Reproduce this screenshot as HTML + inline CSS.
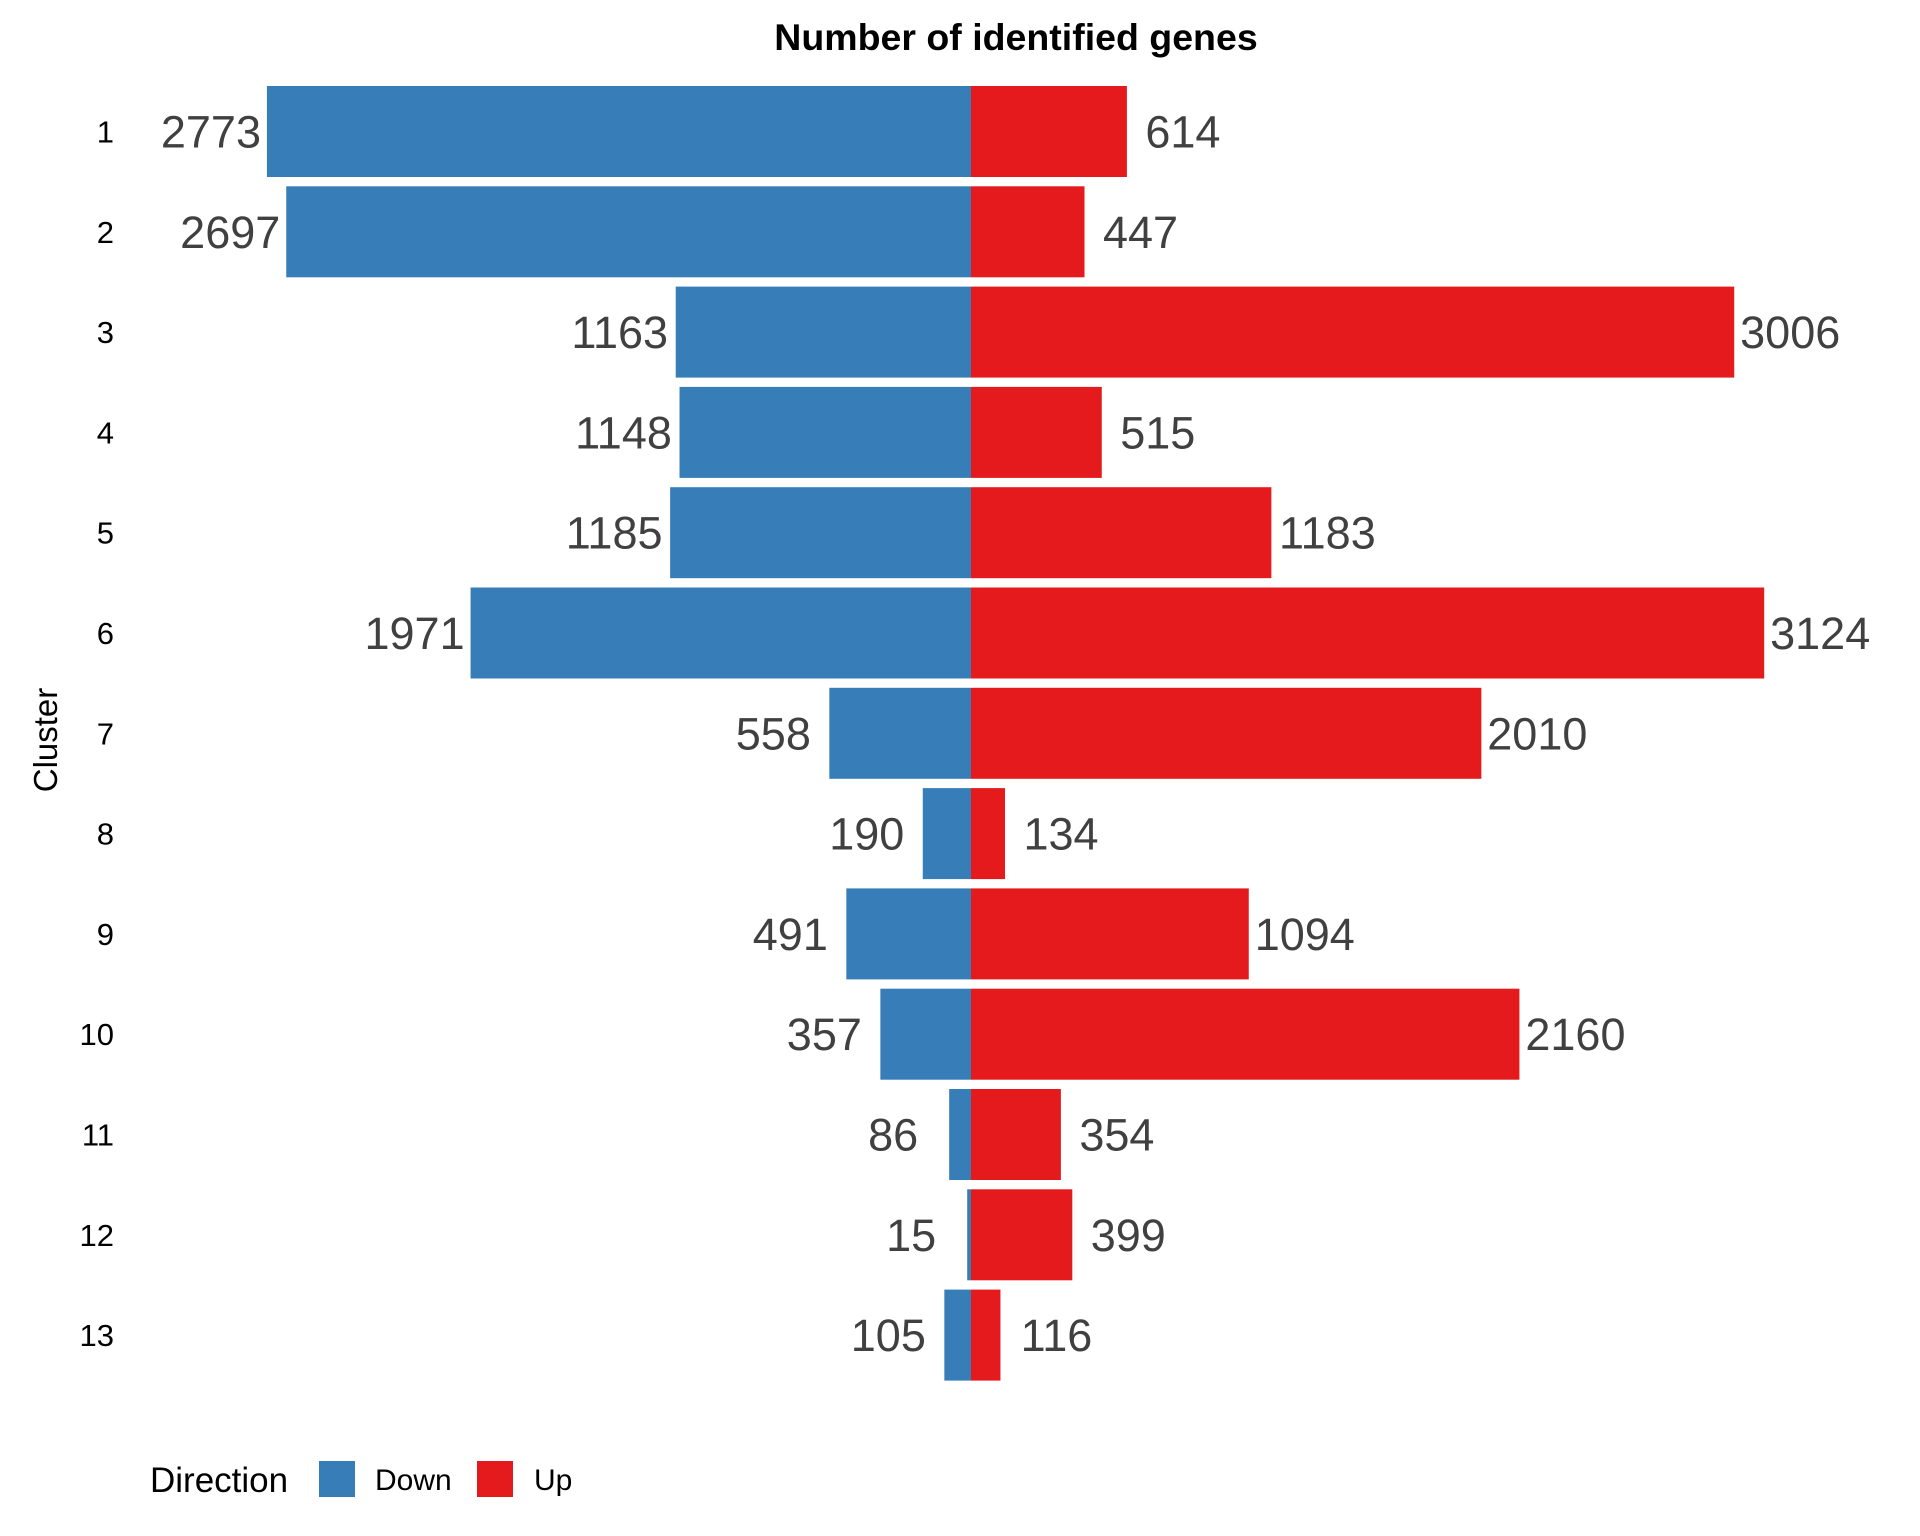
<!DOCTYPE html>
<html><head><meta charset="utf-8"><style>
body{margin:0;background:#fff}
svg{display:block;font-family:"Liberation Sans",sans-serif}
</style></head><body>
<svg id="chart" width="1920" height="1536" viewBox="0 0 1920 1536">
<text x="1016" y="50" text-anchor="middle" font-size="37.5" font-weight="bold" fill="#000">Number of identified genes</text>
<text transform="translate(57,740) rotate(-90)" text-anchor="middle" font-size="33" fill="#000">Cluster</text>
<g id="bars"></g>
<g>
<text x="150" y="1492" font-size="35" fill="#000">Direction</text>
<rect x="319" y="1461" width="36" height="36" fill="#377EB8"/>
<text x="375" y="1490" font-size="30" fill="#000">Down</text>
<rect x="477" y="1461" width="36" height="36" fill="#E41A1C"/>
<text x="534" y="1490" font-size="30" fill="#000">Up</text>
</g>
</svg>
<script>
const clusters = ["1","2","3","4","5","6","7","8","9","10","11","12","13"];
const downValues = [2773,2697,1163,1148,1185,1971,558,190,491,357,86,15,105];
const upValues = [614,447,3006,515,1183,3124,2010,134,1094,2160,354,399,116];

const cx = 971, pxPerUnit = 0.2539, top0 = 86, pitch = 100.3, barH = 91;
function xScale(v){ return cx + v * pxPerUnit; }
function yScale(i){ return top0 + i * pitch; }
const NS = "http://www.w3.org/2000/svg";
const g = document.getElementById('bars');
function mk(tag, attrs){ const e = document.createElementNS(NS, tag); for (const k in attrs) e.setAttribute(k, attrs[k]); return e; }
clusters.forEach((c, i) => {
  const y = yScale(i), d = downValues[i], u = upValues[i];
  const xl = xScale(-d), xr = xScale(u);
  const rd = mk('rect', {x: xl, y: y, width: cx - xl, height: barH, fill: '#377EB8'});
  
  
  g.appendChild(rd);
  const ru = mk('rect', {x: cx, y: y, width: xr - cx, height: barH, fill: '#E41A1C'});
  
  
  g.appendChild(ru);
  const tl = mk('text', {x: xl - 56, y: y + barH/2 + 16, 'text-anchor': 'middle', 'font-size': 45, fill: '#404040'});
  tl.textContent = d;
  
  
  g.appendChild(tl);
  const tr = mk('text', {x: xr + 56, y: y + barH/2 + 16, 'text-anchor': 'middle', 'font-size': 45, fill: '#404040'});
  tr.textContent = u;
  
  
  g.appendChild(tr);
  const tk = mk('text', {x: 114, y: y + barH/2 + 11, 'text-anchor': 'end', 'font-size': 31, fill: '#000'});
  tk.textContent = c;
  
  
  g.appendChild(tk);
});
</script>
</body></html>
